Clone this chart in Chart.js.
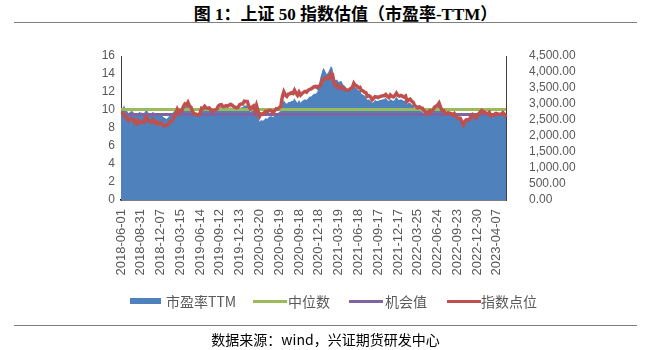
<!DOCTYPE html>
<html><head><meta charset="utf-8">
<script src="https://cdn.jsdelivr.net/npm/chart.js@4"></script>
<style>
body{margin:0;width:651px;height:350px;background:#fff;position:relative;overflow:hidden;}
#title{position:absolute;top:0px;left:20px;width:651px;text-align:center;font:bold 17px "Liberation Serif","Noto Sans CJK SC",serif;color:#000;}
.rule{position:absolute;left:14px;width:623px;height:0;border-top:1.5px solid #7f7f7f;}
#c{position:absolute;left:0;top:0;}
.lg{position:absolute;top:293px;font:14px "Noto Sans CJK SC",sans-serif;color:#595959;white-space:nowrap;line-height:16px;}
.sw{position:absolute;}
#foot{position:absolute;top:329px;left:0;width:651px;text-align:center;font:14px "Noto Sans CJK SC","Liberation Serif",serif;color:#000;}
</style></head>
<body>
<div id="title">图 1：上证 50 指数估值（市盈率-TTM）</div>
<div class="rule" style="top:22px"></div>
<canvas id="c" width="651" height="350"></canvas>
<div class="sw" style="left:130px;top:298px;width:31px;height:6px;background:#4F81BD"></div>
<div class="lg" style="left:166px">市盈率TTM</div>
<div class="sw" style="left:253px;top:300px;width:34px;height:3px;background:#9BBB59"></div>
<div class="lg" style="left:288px">中位数</div>
<div class="sw" style="left:349px;top:300px;width:34px;height:3px;background:#8064A2"></div>
<div class="lg" style="left:385px">机会值</div>
<div class="sw" style="left:447px;top:300px;width:34px;height:3px;background:#C0504D"></div>
<div class="lg" style="left:481px">指数点位</div>
<div class="rule" style="top:325px"></div>
<div id="foot">数据来源：wind，兴证期货研发中心</div>
<script>
// tick labels every 13 weekly points
const TICK_LABELS = ["2018-06-01","2018-08-31","2018-12-07","2019-03-15","2019-06-14","2019-09-12","2019-12-13","2020-03-20","2020-06-19","2020-09-18","2020-12-18","2021-03-19","2021-06-18","2021-09-17","2021-12-17","2022-03-25","2022-06-24","2022-09-23","2022-12-30","2023-04-07"];
const TICK_STEP = 13;
// PE TTM (left axis)
const PE_TTM = [
10.1,10.2,10.5,10.1,9.9,9.6,9.8,9.9,9.8,9.5,9.7,9.5,9.8,
9.7,9.7,9.6,9.9,10.0,9.7,9.6,9.6,9.8,9.6,9.7,9.5,9.6,
9.6,9.4,9.2,9.1,9.0,9.2,9.4,9.5,9.7,9.9,10.0,10.3,10.0,
10.1,10.1,10.3,10.4,10.3,10.5,10.1,10.0,9.7,9.6,9.6,9.5,9.5,
9.7,10.1,10.0,10.2,10.1,10.0,10.1,9.9,9.7,9.8,9.9,9.9,10.2,
10.3,10.3,10.1,10.1,10.2,10.1,10.2,10.3,10.2,10.1,10.0,10.0,10.0,
10.2,10.3,10.3,10.5,10.5,10.5,10.0,9.8,9.9,10.0,9.6,10.0,9.3,
8.7,8.9,8.8,8.9,9.1,9.0,9.2,9.3,9.3,9.2,9.4,9.6,9.6,
9.8,9.9,10.6,11.1,10.8,10.7,10.9,10.9,11.0,11.0,11.3,11.0,10.8,
11.1,10.8,11.0,11.1,11.2,11.1,11.3,11.5,11.5,11.7,11.8,11.8,12.0,
12.8,13.6,14.2,14.7,14.4,14.0,14.1,14.5,14.9,14.6,13.6,13.3,13.4,
13.1,13.2,13.2,12.8,12.7,12.5,12.3,12.2,12.3,12.4,12.8,12.5,12.4,
12.2,12.2,11.8,11.7,11.6,11.5,11.1,11.2,11.0,10.8,10.9,11.1,11.0,
11.0,11.1,11.1,11.2,11.2,11.4,11.1,11.0,11.2,11.1,11.0,11.2,11.5,
11.2,11.1,11.2,11.1,11.0,11.1,10.6,10.8,10.8,10.6,10.5,10.1,10.0,
9.9,10.0,9.9,9.8,9.6,9.6,9.4,9.5,9.7,9.6,9.8,10.1,10.2,
10.3,10.5,10.1,9.8,9.8,9.6,9.5,9.6,9.5,9.5,9.4,9.5,9.2,
9.1,9.0,9.0,8.7,8.5,8.8,9.0,8.9,9.0,9.3,9.5,9.3,9.1,
9.3,9.6,9.7,9.9,9.8,9.8,9.6,9.6,9.7,9.4,9.4,9.4,9.6,
9.6,9.5,9.5,9.6,9.7,9.5,9.4];
// SSE 50 index level (right axis)
const INDEX_LEVEL = [
2740,2730,2660,2580,2560,2480,2530,2540,2520,2420,2480,2390,2460,
2440,2430,2420,2560,2600,2470,2450,2440,2500,2420,2450,2370,2410,
2420,2370,2320,2320,2330,2370,2440,2450,2510,2590,2690,2830,2730,
2800,2790,2920,3000,2970,3050,2940,2900,2760,2700,2690,2660,2650,
2720,2870,2860,2930,2880,2870,2880,2820,2760,2800,2820,2840,2940,
2970,2980,2920,2920,2950,2930,2960,2990,2960,2920,2900,2880,2900,
2980,3000,3000,3090,3080,3080,2930,2850,2900,2940,2800,2960,2790,
2610,2690,2680,2720,2770,2750,2790,2800,2780,2730,2790,2850,2840,
2890,2920,3220,3380,3280,3240,3310,3320,3350,3330,3430,3340,3270,
3370,3280,3330,3370,3390,3370,3430,3460,3470,3510,3540,3550,3510,
3560,3570,3700,3780,3780,3830,3780,3800,3960,3930,3650,3570,3600,
3500,3520,3550,3470,3470,3430,3430,3450,3490,3520,3650,3580,3560,
3510,3520,3420,3410,3370,3350,3240,3260,3220,3130,3180,3230,3220,
3200,3230,3240,3260,3260,3300,3240,3200,3280,3240,3220,3270,3340,
3270,3250,3270,3240,3220,3250,3080,3130,3150,3090,3060,2950,2920,
2880,2910,2880,2870,2790,2760,2690,2740,2790,2760,2810,2900,2930,
2960,3030,2900,2800,2800,2720,2710,2730,2710,2700,2660,2700,2610,
2570,2560,2550,2440,2350,2460,2510,2500,2520,2620,2670,2620,2560,
2620,2690,2740,2800,2760,2750,2700,2700,2740,2640,2650,2650,2700,
2700,2680,2680,2690,2730,2680,2600];
const MEDIAN_PE = 10.05;
const OPPORTUNITY_PE = 9.5;

const labels = PE_TTM.map((_, i) => i);
const yFont = {family: "'Liberation Sans', sans-serif", size: 12};
const xFont = {family: "'Liberation Sans', sans-serif", size: 13};

new Chart(document.getElementById('c'), {
  type: 'line',
  data: {
    labels: labels,
    datasets: [
      {label: '市盈率TTM', data: PE_TTM, yAxisID: 'y', fill: 'origin', backgroundColor: '#4F81BD', borderWidth: 0, pointRadius: 0, order: 4},
      {label: '中位数', data: labels.map(() => MEDIAN_PE), yAxisID: 'y', borderColor: '#9BBB59', borderWidth: 3, pointRadius: 0, fill: false, order: 3},
      {label: '机会值', data: labels.map(() => OPPORTUNITY_PE), yAxisID: 'y', borderColor: '#8064A2', borderWidth: 3, pointRadius: 0, fill: false, order: 2},
      {label: '指数点位', data: INDEX_LEVEL, yAxisID: 'y2', borderColor: '#C0504D', borderWidth: 3.5, pointRadius: 0, fill: false, order: 1}
    ]
  },
  options: {
    responsive: false,
    animation: false,
    events: [],
    layout: {padding: {left: 0, right: 0, top: 56, bottom: 50}},
    plugins: {legend: {display: false}, tooltip: {enabled: false}},
    elements: {line: {tension: 0}},
    scales: {
      x: {
        type: 'category',
        offset: false,
        grid: {display: false, drawTicks: false},
        border: {display: true, color: '#000', width: 1.5},
        afterFit: s => { s.height = 100; },
        ticks: {
          autoSkip: false, minRotation: 90, maxRotation: 90, padding: 9,
          color: '#595959', font: xFont,
          callback: (v, i) => (i % TICK_STEP === 0 && TICK_LABELS[i / TICK_STEP]) ? TICK_LABELS[i / TICK_STEP] : null
        }
      },
      y: {
        position: 'left', min: 0, max: 16,
        grid: {display: false, drawTicks: false},
        border: {display: true, color: '#404040', width: 1},
        afterFit: s => { s.width = 121; },
        ticks: {stepSize: 2, autoSkip: false, padding: 6, color: '#595959', font: yFont}
      },
      y2: {
        position: 'right', min: 0, max: 4500,
        grid: {display: false, drawTicks: false},
        border: {display: true, color: '#404040', width: 1},
        afterFit: s => { s.width = 145; },
        ticks: {stepSize: 500, autoSkip: false, padding: 23, color: '#595959', font: yFont,
          callback: v => v.toLocaleString('en-US', {minimumFractionDigits: 2, maximumFractionDigits: 2})}
      }
    }
  }
});
</script>
</body></html>
